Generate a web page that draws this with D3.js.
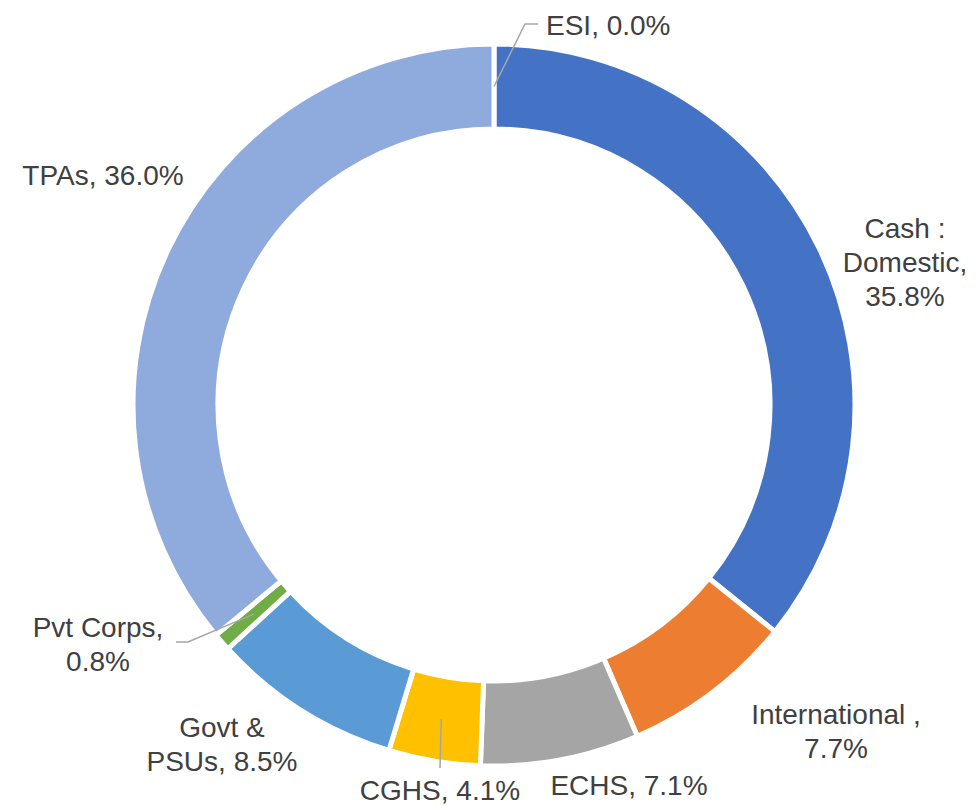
<!DOCTYPE html>
<html>
<head>
<meta charset="utf-8">
<script src="https://cdn.jsdelivr.net/npm/d3@7"></script>
<style>
  body { margin: 0; background: #fff; }
  text { font-family: "Liberation Sans", Arial, sans-serif; fill: #404040; }
</style>
</head>
<body>
<script>
// categories and shares (%), clockwise from 12 o'clock
let categories = ["ESI", "Cash : Domestic", "International ", "ECHS", "CGHS", "Govt & PSUs", "Pvt Corps", "TPAs"]
let shares = [0.0, 35.8, 7.7, 7.1, 4.1, 8.5, 0.8, 36.0]
let colors = ["#A5A5A5", "#4472C4", "#ED7D31", "#A5A5A5", "#FFC000", "#5B9BD5", "#70AD47", "#8FAADC"]

// label text lines (as shown on the chart)
let labelLines = [
    ["ESI, 0.0%"],
    ["Cash :", "Domestic,", "35.8%"],
    ["International ,", "7.7%"],
    ["ECHS, 7.1%"],
    ["CGHS, 4.1%"],
    ["Govt &", "PSUs, 8.5%"],
    ["Pvt Corps,", "0.8%"],
    ["TPAs, 36.0%"]
]

let width = 976, height = 806;
let cx = 494, cy = 405;
let outerR = 361, innerR = 276;

// label placement (anchor x, first baseline y), relative to page
let labelPos = [[611, 35], [905, 238], [836, 724], [629, 795], [440, 800], [222, 737], [98, 637], [103, 185]]
// leader lines: elbow + end points, only for a few labels
let leaders = {0: [[525, 24], [538, 24]], 4: [[440, 768]], 6: [[188, 642], [176, 642]]}

var svg = d3.select("body")
    .append("svg")
    .attr("width", width)
    .attr("height", height)

var pie = d3.pie().sort(null).value(d => d)
var arc = d3.arc().innerRadius(innerR).outerRadius(outerR)

var g = svg.append("g").attr("transform", "translate(" + cx + "," + cy + ")")

var arcs = pie(shares)

g.selectAll("path")
    .data(arcs)
    .enter()
    .append("path")
    .attr("d", arc)
    .attr("fill", (d, i) => colors[i])
    .attr("stroke", "#fff")
    .attr("stroke-width", 5)
    .attr("stroke-linejoin", "miter")

// leader lines start at the slice centroid
Object.keys(leaders).forEach(function(k) {
    var c = arc.centroid(arcs[k])
    var pts = [[c[0] + cx, c[1] + cy]].concat(leaders[k])
    svg.append("path")
        .attr("d", d3.line()(pts))
        .attr("fill", "none")
        .attr("stroke", "#A6A6A6")
        .attr("stroke-width", 1.5)
})

var lineH = 34
labelLines.forEach(function(lines, i) {
    var t = svg.append("text")
        .attr("text-anchor", i == 0 ? "start" : "middle")
        .attr("font-size", 28)
    lines.forEach(function(s, j) {
        t.append("tspan")
            .attr("x", i == 0 ? 546 : labelPos[i][0])
            .attr("y", labelPos[i][1] + j * lineH)
            .text(s)
    })
})
</script>
</body>
</html>
